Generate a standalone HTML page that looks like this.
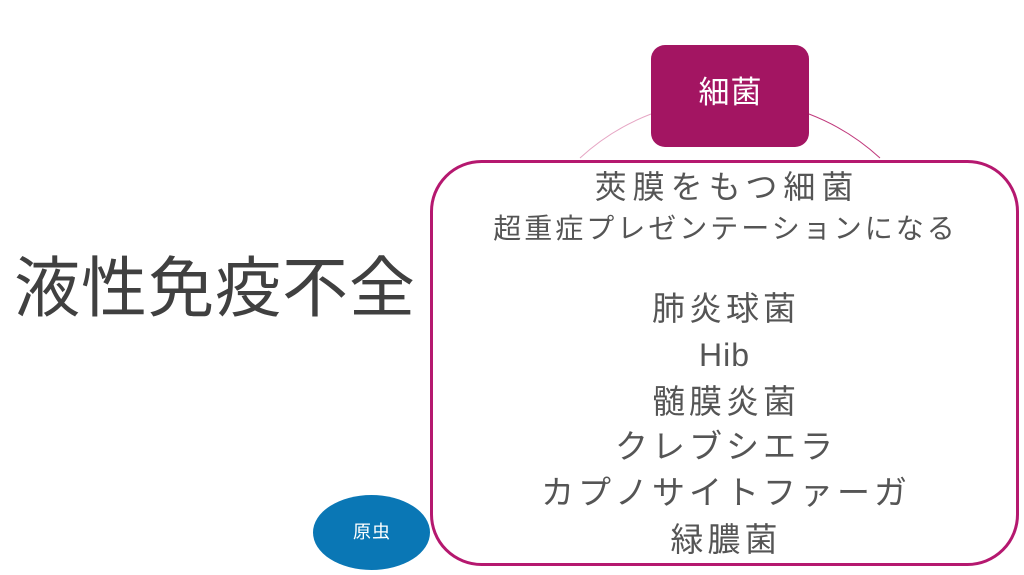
<!DOCTYPE html>
<html><head><meta charset="utf-8"><style>
body{margin:0;width:1024px;height:575px;background:#fff;position:relative;overflow:hidden;font-family:"Liberation Sans","Noto Sans CJK JP",sans-serif;}
.t{position:absolute;left:430px;width:588px;text-align:center;color:#555;white-space:nowrap;line-height:1;letter-spacing:4px;text-indent:4px;}
</style></head><body>
<svg width="1024" height="575" style="position:absolute;left:0;top:0">
<path d="M580,158 A223.5,223.5 0 0 1 651,114" fill="none" stroke="#e6a6c4" stroke-width="1"/>
<path d="M809,114 A223.5,223.5 0 0 1 880,158" fill="none" stroke="#c0397c" stroke-width="1"/>
<rect x="431.5" y="161.5" width="586" height="403" rx="50" fill="#fff" stroke="#b5186f" stroke-width="3"/>
<rect x="651" y="45" width="158" height="102" rx="14" fill="#a31562"/>
<ellipse cx="371.5" cy="532.5" rx="58.5" ry="37.5" fill="#0a77b5"/>
</svg>
<div style="position:absolute;left:651px;top:77px;width:158px;text-align:center;color:#fff;font-size:31px;line-height:1;letter-spacing:1px;text-indent:1px">細菌</div>
<div style="position:absolute;left:313px;top:523px;width:117px;text-align:center;color:#fff;font-size:18px;line-height:1;letter-spacing:1px;text-indent:1px">原虫</div>
<div style="position:absolute;left:14px;top:255px;color:#404040;font-size:66px;line-height:1;letter-spacing:1px">液性免疫不全</div>
<div class="t" style="top:171px;font-size:32px;letter-spacing:6px;text-indent:6px">莢膜をもつ細菌</div>
<div class="t" style="top:215px;font-size:28px;letter-spacing:3px;text-indent:3px">超重症プレゼンテーションになる</div>
<div class="t" style="top:292px;font-size:33px">肺炎球菌</div>
<div class="t" style="top:339px;font-size:32px;letter-spacing:1px;text-indent:1px">Hib</div>
<div class="t" style="top:385px;font-size:33px">髄膜炎菌</div>
<div class="t" style="top:430px;font-size:33px">クレブシエラ</div>
<div class="t" style="top:476px;font-size:33px">カプノサイトファーガ</div>
<div class="t" style="top:523px;font-size:33px">緑膿菌</div>
</body></html>
